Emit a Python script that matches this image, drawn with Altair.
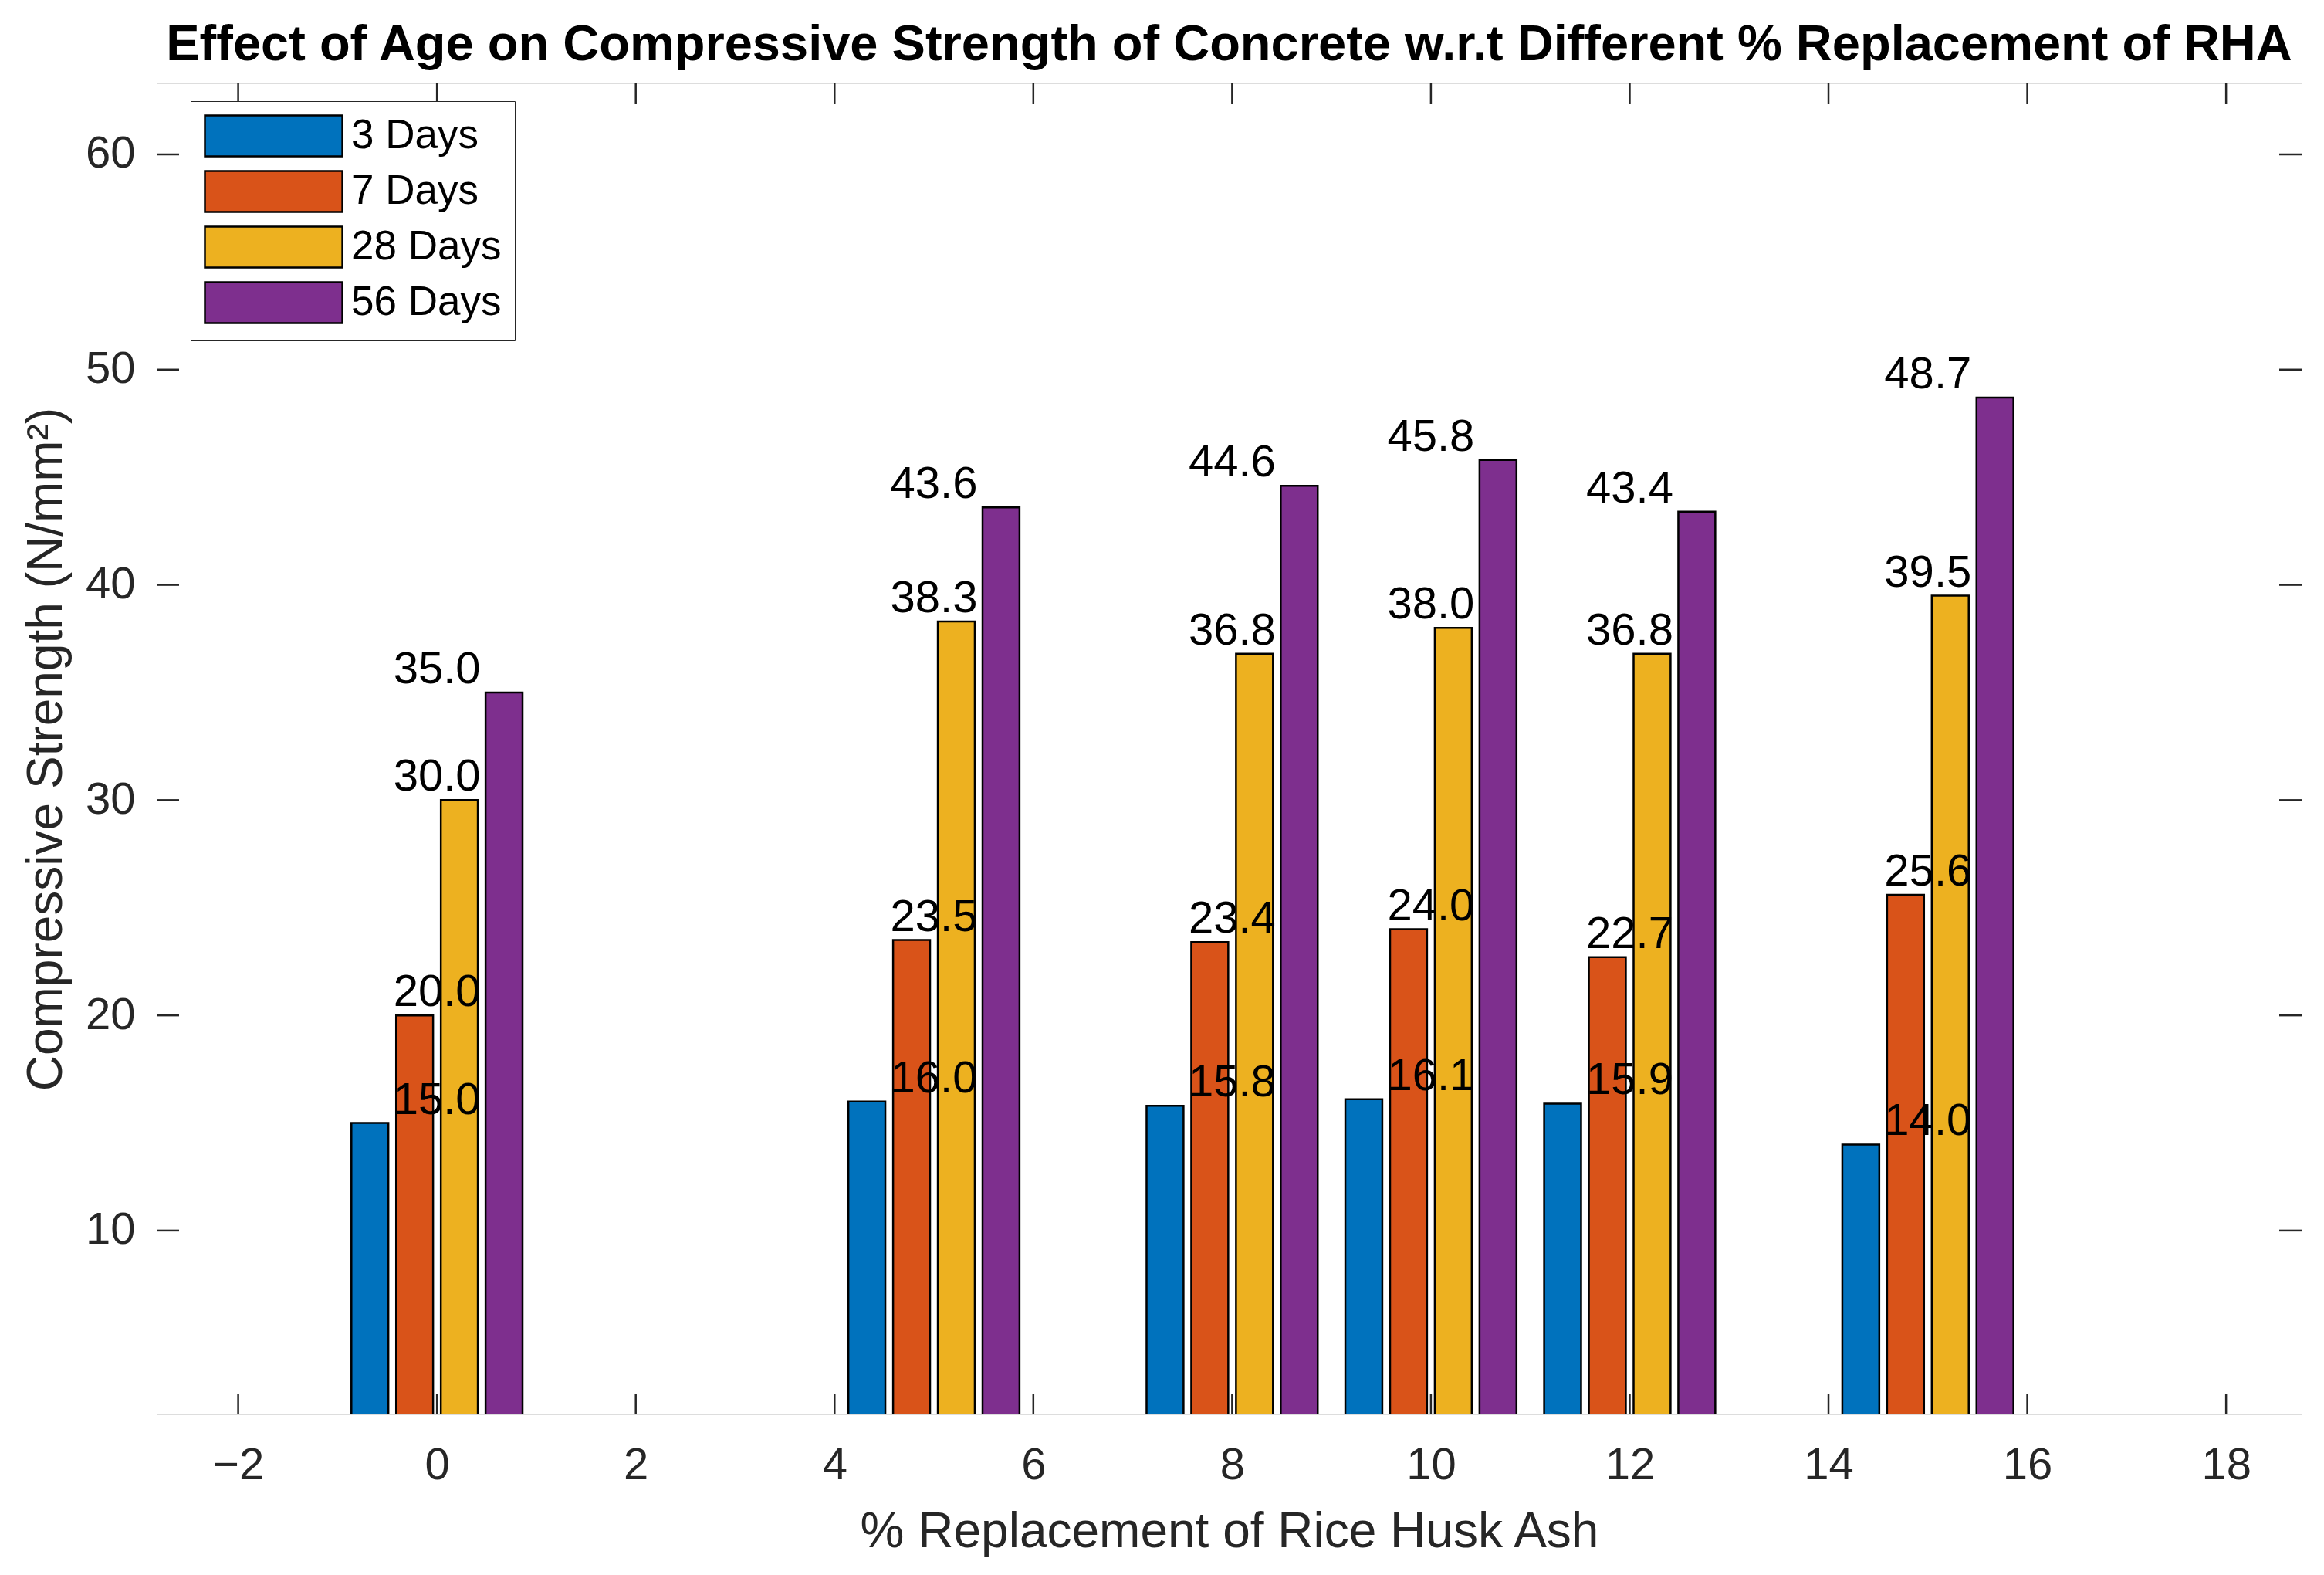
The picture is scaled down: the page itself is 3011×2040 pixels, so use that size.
import altair as alt
import pandas as pd

# ---- data ----
replacement = [0, 5, 8, 10, 12, 15]
series_names = ["3 Days", "7 Days", "28 Days", "56 Days"]
days3 = [15.0, 16.0, 15.8, 16.1, 15.9, 14.0]
days7 = [20.0, 23.5, 23.4, 24.0, 22.7, 25.6]
days28 = [30.0, 38.3, 36.8, 38.0, 36.8, 39.5]
days56 = [35.0, 43.6, 44.6, 45.8, 43.4, 48.7]
x_ticks = [-2, 0, 2, 4, 6, 8, 10, 12, 14, 16, 18]
y_ticks = [10, 20, 30, 40, 50, 60]
colors = ["#0072BD", "#D95319", "#EDB120", "#7E2F8E"]

series_values = [days3, days7, days28, days56]
rows = []
for j, (name, vals) in enumerate(zip(series_names, series_values)):
    for p, v in zip(replacement, vals):
        rows.append({"pct": p, "series": name, "idx": j, "value": v})
df = pd.DataFrame(rows)
xt = pd.DataFrame({"tick": x_ticks})
yt = pd.DataFrame({"tick": y_ticks})

W, H = 2779, 1724
FONT = "Liberation Sans"
AX = "#262626"

x_scale = alt.Scale(domain=[-2.82, 18.76], nice=False, zero=False)
y_scale = alt.Scale(domain=[1.46, 63.3], nice=False, zero=False)

x_axis = alt.Axis(
    values=x_ticks, title="% Replacement of Rice Husk Ash", grid=False,
    ticks=False, tickSize=0, domain=False, labelFontSize=58, labelColor=AX,
    labelPadding=37, labelFont=FONT, titleFont=FONT, titleFontSize=64,
    titleFontWeight="normal", titleColor=AX, titleY=171, titleX=W / 2,
    titleBaseline="alphabetic", titleAlign="center",
)
y_axis = alt.Axis(
    values=y_ticks, title="Compressive Strength (N/mm²)", grid=False,
    ticks=False, tickSize=0, domain=False, labelFontSize=58, labelColor=AX,
    labelPadding=28, labelFont=FONT, titleFont=FONT, titleFontSize=64,
    titleFontWeight="normal", titleColor=AX, titleAngle=270, titleX=-124,
    titleY=H / 2, titleBaseline="alphabetic", titleAlign="center",
)


def X(field):
    return alt.X(field, scale=x_scale, axis=x_axis)


def Y(field):
    return alt.Y(field, scale=y_scale, axis=y_axis)


base = alt.Chart(df).transform_calculate(
    x0="datum.pct + (datum.idx - 1.5) * 0.45 - 0.186",
    x1="datum.pct + (datum.idx - 1.5) * 0.45 + 0.186",
)

bars = base.mark_bar(stroke="black", strokeWidth=2.5, clip=True).encode(
    x=X("x0:Q"),
    x2="x1:Q",
    y=Y("value:Q"),
    y2=alt.datum(0),
    color=alt.Color(
        "series:N",
        scale=alt.Scale(domain=series_names, range=colors),
        sort=series_names,
        legend=alt.Legend(
            title=None, orient="none", legendX=44, legendY=23, padding=17,
            rowPadding=8, symbolType="M-1,-1H5.72V1H-1Z", symbolSize=2809,
            symbolStrokeColor="black", symbolStrokeWidth=2.5, symbolOpacity=1,
            labelFontSize=53, labelFont=FONT, labelColor="black",
            labelOffset=135, labelLimit=500, strokeColor=AX, fillColor="white",
        ),
    ),
)

labels = alt.Chart(df).mark_text(
    baseline="bottom", align="center", fontSize=58, font=FONT, color="black"
).encode(
    x=X("pct:Q"),
    y=Y("value:Q"),
    text=alt.Text("value:Q", format=".1f"),
)

tick_style = dict(color=AX, strokeWidth=2.5)
xb = alt.Chart(xt).mark_rule(**tick_style).encode(
    x=X("tick:Q"), y=alt.value(H), y2=alt.value(H - 27))
xtop = alt.Chart(xt).mark_rule(**tick_style).encode(
    x=X("tick:Q"), y=alt.value(0), y2=alt.value(27))
yl = alt.Chart(yt).mark_rule(**tick_style).encode(
    y=Y("tick:Q"), x=alt.value(0), x2=alt.value(29))
yr = alt.Chart(yt).mark_rule(**tick_style).encode(
    y=Y("tick:Q"), x=alt.value(W), x2=alt.value(W - 29))

chart = alt.layer(bars, xb, xtop, yl, yr, labels).properties(
    width=W,
    height=H,
    autosize=alt.AutoSizeParams(type="none"),
    padding={"left": 195, "top": 100, "right": 21, "bottom": 200},
    title=alt.TitleParams(
        "Effect of Age on Compressive Strength of Concrete w.r.t Different % Replacement of RHA",
        fontSize=65, fontWeight="bold", font=FONT, anchor="middle",
        frame="group", offset=28, dy=64, baseline="alphabetic", color="black",
    ),
).configure_view(stroke=AX, strokeWidth=3).configure(background="white")

chart.save("out.html", embed_options={"renderer": "svg", "actions": False})
